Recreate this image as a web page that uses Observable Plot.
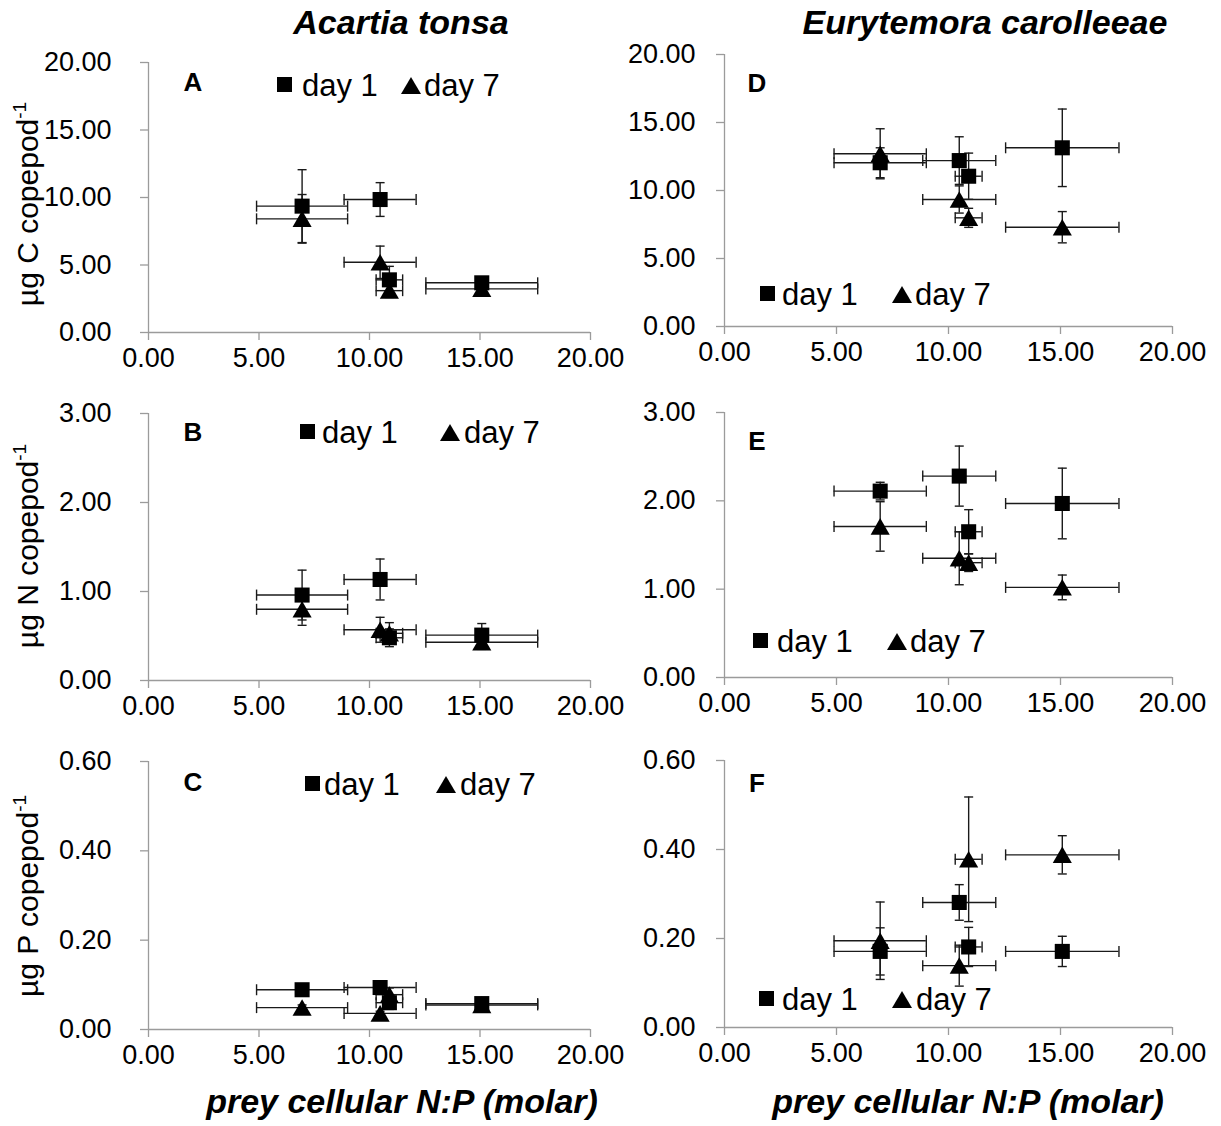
<!DOCTYPE html>
<html><head><meta charset="utf-8">
<script src="https://cdn.jsdelivr.net/npm/d3@7"></script>
<script src="https://cdn.jsdelivr.net/npm/@observablehq/plot@0.6"></script>
<style>
body{margin:0;background:#fff;}
#fig{position:relative;width:1221px;height:1126px;overflow:hidden;background:#fff;}
</style></head><body><div id="fig"></div>
<script>
// ---------- data ----------
const preyNP = [6.95, 10.48, 10.9, 15.08];
const preyNPErr = [2.06, 1.63, 0.6, 2.53];
const seriesNames = ["day 1", "day 7"];
const xTicks = [0, 5, 10, 15, 20];
const carbonTicks = [0, 5, 10, 15, 20];
const nitrogenTicks = [0, 1, 2, 3];
const phosphorusTicks = [0, 0.2, 0.4, 0.6];

const acartiaC1 = [9.36, 9.85, 3.9, 3.68];
const acartiaC1Err = [2.7, 1.25, 1.0, 0.3];
const acartiaC7 = [8.42, 5.2, 3.1, 3.23];
const acartiaC7Err = [1.8, 1.2, 0.5, 0.3];
const acartiaN1 = [0.96, 1.135, 0.48, 0.51];
const acartiaN1Err = [0.28, 0.23, 0.1, 0.13];
const acartiaN7 = [0.80, 0.57, 0.53, 0.43];
const acartiaN7Err = [0.18, 0.14, 0.12, 0.08];
const acartiaP1 = [0.089, 0.094, 0.06, 0.058];
const acartiaP1Err = [0.01, 0.01, 0.015, 0.005];
const acartiaP7 = [0.049, 0.036, 0.078, 0.055];
const acartiaP7Err = [0.006, 0.005, 0.015, 0.005];

const eurytemoraC1 = [12.04, 12.2, 11.05, 13.14];
const eurytemoraC1Err = [1.1, 1.75, 1.7, 2.85];
const eurytemoraC7 = [12.7, 9.34, 7.99, 7.3];
const eurytemoraC7Err = [1.84, 1.0, 0.7, 1.15];
const eurytemoraN1 = [2.11, 2.28, 1.65, 1.97];
const eurytemoraN1Err = [0.1, 0.34, 0.25, 0.4];
const eurytemoraN7 = [1.71, 1.35, 1.30, 1.02];
const eurytemoraN7Err = [0.28, 0.3, 0.1, 0.14];
const eurytemoraP1 = [0.171, 0.281, 0.181, 0.171];
const eurytemoraP1Err = [0.053, 0.04, 0.044, 0.034];
const eurytemoraP7 = [0.195, 0.139, 0.378, 0.388];
const eurytemoraP7Err = [0.087, 0.046, 0.14, 0.043];

const columnTitles = ["Acartia tonsa", "Eurytemora carolleeae"];
const xAxisLabel = "prey cellular N:P (molar)";
const yAxisLabels = ["µg C copepod", "µg N copepod", "µg P copepod"];
const yAxisSup = "-1";
const panelLetters = ["A", "B", "C", "D", "E", "F"];

// ---------- style ----------
const FONT = '"Liberation Sans", Arial, Helvetica, sans-serif';
const AXIS = "#9b9b9b";
const EB = "#1a1a1a";
const TICK_FS = 27;
const fig = document.getElementById("fig");

const capV = {draw(ctx) { ctx.moveTo(0, -5.5); ctx.lineTo(0, 5.5); }};
const capH = {draw(ctx) { ctx.moveTo(-4.5, 0); ctx.lineTo(4.5, 0); }};

const panels = [
  {col: 0, d1: acartiaC1, e1: acartiaC1Err, d7: acartiaC7, e7: acartiaC7Err, ticks: carbonTicks, top: 62, bottom: 332},
  {col: 0, d1: acartiaN1, e1: acartiaN1Err, d7: acartiaN7, e7: acartiaN7Err, ticks: nitrogenTicks, top: 413, bottom: 680},
  {col: 0, d1: acartiaP1, e1: acartiaP1Err, d7: acartiaP7, e7: acartiaP7Err, ticks: phosphorusTicks, top: 761, bottom: 1029},
  {col: 1, d1: eurytemoraC1, e1: eurytemoraC1Err, d7: eurytemoraC7, e7: eurytemoraC7Err, ticks: carbonTicks, top: 54, bottom: 326},
  {col: 1, d1: eurytemoraN1, e1: eurytemoraN1Err, d7: eurytemoraN7, e7: eurytemoraN7Err, ticks: nitrogenTicks, top: 412, bottom: 677},
  {col: 1, d1: eurytemoraP1, e1: eurytemoraP1Err, d7: eurytemoraP7, e7: eurytemoraP7Err, ticks: phosphorusTicks, top: 760, bottom: 1027}
];

const fmt = d => d.toFixed(2);

function makePanel(p) {
  const rows = [];
  [[p.d1, p.e1], [p.d7, p.e7]].forEach(([ys, es], k) =>
    preyNP.forEach((x, i) => rows.push({series: seriesNames[k], x, xe: preyNPErr[i], y: ys[i], ye: es[i]})));
  const left = p.col === 0 ? 0 : 610;
  const W = p.col === 0 ? 610 : 611;
  const x0 = p.col === 0 ? 148 : 724, x1 = p.col === 0 ? 590 : 1172;
  const mT = 35, mB = 50;
  const H = p.bottom - p.top + mT + mB;
  const ymax = p.ticks[p.ticks.length - 1];
  const ypad = p.col === 0 ? 29 : 21;
  const d1 = rows.filter(d => d.series === seriesNames[0]);
  const d7 = rows.filter(d => d.series === seriesNames[1]);
  const bars = (data) => [
    Plot.ruleY(data, {y: "y", x1: d => d.x - d.xe, x2: d => d.x + d.xe, stroke: EB, strokeWidth: 1.4}),
    Plot.dot(data, {x: d => d.x - d.xe, y: "y", symbol: capV, fill: "none", stroke: EB, strokeWidth: 1.4}),
    Plot.dot(data, {x: d => d.x + d.xe, y: "y", symbol: capV, fill: "none", stroke: EB, strokeWidth: 1.4}),
    Plot.ruleX(data, {x: "x", y1: d => d.y - d.ye, y2: d => d.y + d.ye, stroke: EB, strokeWidth: 1.4}),
    Plot.dot(data, {x: "x", y: d => d.y - d.ye, symbol: capH, fill: "none", stroke: EB, strokeWidth: 1.4}),
    Plot.dot(data, {x: "x", y: d => d.y + d.ye, symbol: capH, fill: "none", stroke: EB, strokeWidth: 1.4})
  ];
  const chart = Plot.plot({
    width: W, height: H,
    marginLeft: x0 - left, marginRight: left + W - x1, marginTop: mT, marginBottom: mB,
    x: {domain: [xTicks[0], xTicks[xTicks.length - 1]]},
    y: {domain: [p.ticks[0], ymax]},
    style: {fontFamily: FONT, fontSize: TICK_FS + "px", color: "#000", background: "transparent", overflow: "visible"},
    marks: [
      Plot.ruleY([p.ticks[0]], {x1: xTicks[0], x2: xTicks[xTicks.length - 1], stroke: AXIS, strokeWidth: 1.3}),
      Plot.ruleX([xTicks[0]], {y1: p.ticks[0], y2: ymax, stroke: AXIS, strokeWidth: 1.3}),
      Plot.axisX({ticks: xTicks, tickSize: 8, color: AXIS, strokeWidth: 1.3, tickFormat: () => "", label: null}),
      Plot.axisX({ticks: xTicks, tickSize: 0, tickPadding: 15, color: "#000", tickFormat: fmt, label: null, fontSize: TICK_FS}),
      Plot.axisY({ticks: p.ticks, tickSize: 8, color: AXIS, strokeWidth: 1.3, tickFormat: () => "", label: null}),
      Plot.axisY({ticks: p.ticks, tickSize: 0, tickPadding: 8 + ypad, color: "#000", tickFormat: fmt, label: null, fontSize: TICK_FS}),
      ...bars(d1),
      ...bars(d7),
      Plot.dot(d1, {x: "x", y: "y", symbol: "square", r: 8.5, fill: "#000"}),
      Plot.dot(d7, {x: "x", y: "y", symbol: "triangle", r: 7.1, dy: 2.7, fill: "#000"})
    ]
  });
  chart.style.position = "absolute";
  chart.style.left = left + "px";
  chart.style.top = (p.top - mT) + "px";
  fig.append(chart);
}
panels.forEach(makePanel);

// ---------- annotations ----------
const ov = d3.select(fig).append("svg")
  .attr("width", 1221).attr("height", 1126)
  .style("position", "absolute").style("left", 0).style("top", 0)
  .style("font-family", FONT);

// column titles
[[401, 34], [985, 34]].forEach(([x, y], i) =>
  ov.append("text").attr("x", x).attr("y", y).attr("text-anchor", "middle")
    .attr("font-size", 34).attr("font-weight", "bold").attr("font-style", "italic").text(columnTitles[i]));
// x labels
[[402, 1113], [968, 1113]].forEach(([x, y]) =>
  ov.append("text").attr("x", x).attr("y", y).attr("text-anchor", "middle")
    .attr("font-size", 34).attr("font-weight", "bold").attr("font-style", "italic").text(xAxisLabel));
// y labels
[[38, 204], [38, 546], [38, 896]].forEach(([x, y], i) => {
  const t = ov.append("text").attr("transform", `translate(${x},${y}) rotate(-90)`)
    .attr("text-anchor", "middle").attr("font-size", 30);
  t.append("tspan").text(yAxisLabels[i]);
  t.append("tspan").attr("font-size", 19).attr("dy", -12).text(yAxisSup);
});
// panel letters
[[193, 91], [193, 441], [193, 791], [757, 92], [757, 450], [757, 792]].forEach(([x, y], i) =>
  ov.append("text").attr("x", x).attr("y", y).attr("text-anchor", "middle")
    .attr("font-size", 26).attr("font-weight", "bold").text(panelLetters[i]));
// legends: [square x, text1 x, triangle x, text2 x, baseline]
const legends = [
  [277, 302, 401, 424, 96],
  [300, 322, 440, 464, 443],
  [305, 324, 436, 460, 795],
  [760, 782, 892, 915, 305],
  [753, 777, 887, 910, 652],
  [759, 782, 892, 916, 1010]
];
legends.forEach(([sx, t1, tx, t2, b]) => {
  ov.append("rect").attr("x", sx).attr("y", b - 19).attr("width", 15).attr("height", 15).attr("fill", "#000");
  ov.append("text").attr("x", t1).attr("y", b).attr("font-size", 31).text(seriesNames[0]);
  ov.append("path").attr("d", `M${tx},${b - 2}L${tx + 20},${b - 2}L${tx + 10},${b - 19}Z`).attr("fill", "#000");
  ov.append("text").attr("x", t2).attr("y", b).attr("font-size", 31).text(seriesNames[1]);
});
</script></body></html>
